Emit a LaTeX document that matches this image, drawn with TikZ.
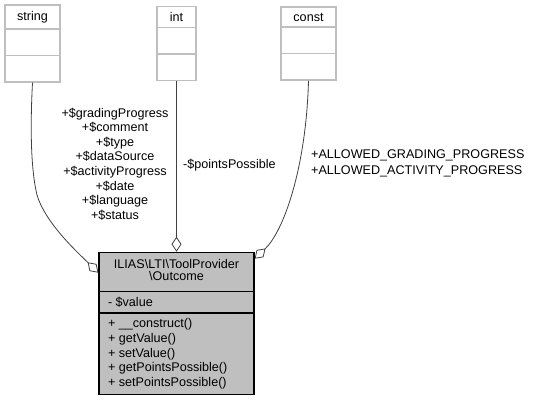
\documentclass[tikz,border=0pt]{standalone}
\usepackage{fontspec}
\setmainfont{Liberation Sans}
\definecolor{edgeline}{RGB}{64,64,64}
\definecolor{boxline}{RGB}{191,191,191}
\definecolor{boxfill}{RGB}{191,191,191}
\usetikzlibrary{
	arrows.meta,
	shapes.multipart
}
\tikzset{
  % class box
	cstclass/.style   ={rectangle split, rectangle split parts=3, draw=boxline, fill=white,
	                    line width=1.5pt, inner xsep=4pt, inner ysep=5.2pt,
	                    font=\fontsize{12.6}{14.6}\selectfont},
	cstmain/.style    ={cstclass, draw=black, fill=boxfill, line width=1.2pt, align=left,
	                    rectangle split part align={center,left,left}, minimum width=155pt,
	                    inner xsep=9pt},
  % edge
	cstaggr/.style    ={{Diamond[open,length=15pt,width=10pt]}-, draw=edgeline, line width=0.8pt},
  % label
	cstlabel/.style   ={font=\fontsize{12.6}{14.6}\selectfont, inner sep=1pt}
}
\begin{document}
\begin{tikzpicture}[x=1pt,y=-1pt]
	\useasboundingbox (0,0) rectangle (543,404);
	% classes
	\node[cstclass,minimum width=55pt] (string) at (32.5,43.5) {string\nodepart{two}\strut\nodepart{three}\strut};
	\node[cstclass,minimum width=39pt] (int) at (176.5,43.5) {int\nodepart{two}\strut\nodepart{three}\strut};
	\node[cstclass,minimum width=55pt] (const) at (308.5,43.5) {const\nodepart{two}\strut\nodepart{three}\strut};
	\node[cstmain] (outcome) at (176.5,323.5) {%
		\begin{tabular}{@{}c@{}}ILIAS\textbackslash LTI\textbackslash ToolProvider\\[-2pt]\textbackslash Outcome\end{tabular}
		\nodepart{two}- \$value
		\nodepart{three}+ \_\_construct()\\+ getValue()\\+ setValue()\\+ getPointsPossible()\\+ setPointsPossible()};
	% relations
	\draw[cstaggr] ([yshift=-21pt]outcome.north west) .. controls (75,250) and (45,222) .. (37,195)
		.. controls (31,170) and (30,130) .. (string.south);
	\draw[cstaggr] (outcome.north) -- (int.south);
	\draw[cstaggr] ([yshift=-7pt]outcome.north east) .. controls (283,232) and (306,170) .. (const.south);
	% labels
	\node[cstlabel,align=center] (lblstring) at (115,164) {+\$gradingProgress\\+\$comment\\+\$type\\+\$dataSource\\+\$activityProgress\\+\$date\\+\$language\\+\$status};
	\node[cstlabel,anchor=west] (lblint) at (182,165) {-\$pointsPossible};
	\node[cstlabel,anchor=west,align=left] (lblconst) at (310,163.5) {+ALLOWED\_GRADING\_PROGRESS\\[1.4pt]+ALLOWED\_ACTIVITY\_PROGRESS};
\end{tikzpicture}
\end{document}
